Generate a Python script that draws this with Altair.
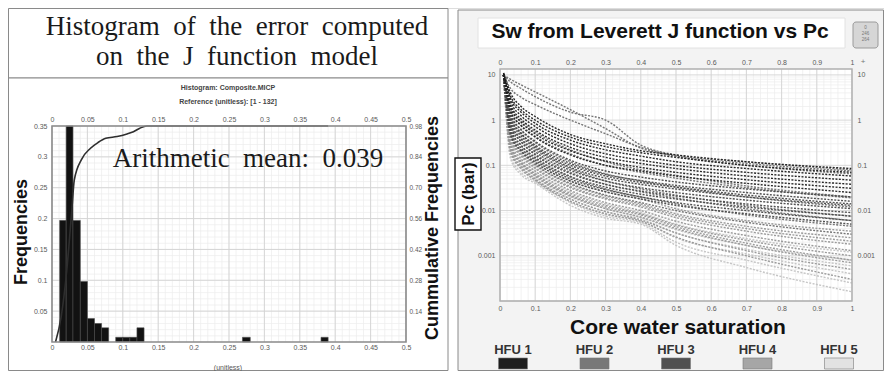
import altair as alt
import numpy as np
import pandas as pd

W, H = 876, 363

# ---------------- text ----------------
left_title = ["Histogram\u00a0 of\u00a0 the\u00a0 error\u00a0 computed", "on\u00a0 the\u00a0 J\u00a0 function\u00a0 model"]
hist_sub1 = "Histogram: Composite.MICP"
hist_sub2 = "Reference (unitless): [1 - 132]"
hist_xlabel = "(unitless)"
hist_ylabel = "Frequencies"
hist_y2label = "Cummulative Frequencies"
mean_text = "Arithmetic\u00a0 mean:\u00a0 0.039"
right_title = "Sw from Leverett J function vs Pc"
right_xlabel = "Core water saturation"
right_ylabel = "Pc (bar)"
icon_text = ["0", "246", "264"]

# ---------------- histogram data ----------------
bin_start = [0.0108, 0.020, 0.0296, 0.040, 0.050, 0.060, 0.070, 0.090, 0.100, 0.110, 0.120, 0.269, 0.380]
bin_end = [0.020, 0.0296, 0.040, 0.050, 0.060, 0.070, 0.080, 0.100, 0.110, 0.120, 0.130, 0.280, 0.390]
bin_freq = [0.197, 0.356, 0.197, 0.098, 0.038, 0.030, 0.023, 0.0076, 0.0076, 0.0076, 0.023, 0.0076, 0.0076]

cum_x = [0.005, 0.013, 0.021, 0.028, 0.0315, 0.042, 0.054, 0.065, 0.076, 0.092, 0.106, 0.115, 0.124, 0.134, 0.27, 0.28, 0.38, 0.39]
cum_y = [0.0, 0.115, 0.33, 0.60, 0.735, 0.83, 0.878, 0.905, 0.924, 0.932, 0.944, 0.954, 0.970, 0.985, 0.985, 0.992, 0.992, 1.0]

hist_x_ticks = [0, 0.05, 0.1, 0.15, 0.2, 0.25, 0.3, 0.35, 0.4, 0.45, 0.5]
hist_y_ticks = [0.05, 0.1, 0.15, 0.2, 0.25, 0.3, 0.35]
cum_ticks = [0.14, 0.28, 0.42, 0.56, 0.70, 0.84, 0.98]
hist_minor_x = [round(v, 2) for v in np.arange(0, 0.501, 0.01)]
hist_minor_y = [round(v, 2) for v in np.arange(0, 0.351, 0.01)]

# ---------------- Pc curves data ----------------
sw_points = [0.01, 0.03, 0.06, 0.1, 0.2, 0.3, 0.4, 0.5, 0.7, 1.0]
hfu_names = ["HFU 1", "HFU 2", "HFU 3", "HFU 4", "HFU 5"]
hfu_line_colors = ["#1e1e1e", "#6e6e6e", "#474747", "#969696", "#c2c2c2"]
hfu_swatch_colors = ["#1e1e1e", "#787878", "#505050", "#a6a6a6", "#e2e2e2"]

curves_hfu1 = [
    [11, 4.0, 2.0, 1.2, 0.48, 0.30, 0.21, 0.17, 0.12, 0.085],
    [11, 3.4, 1.7, 1.0, 0.42, 0.26, 0.19, 0.15, 0.10, 0.070],
    [10, 3.0, 1.5, 0.85, 0.36, 0.22, 0.16, 0.12, 0.085, 0.058],
    [10, 2.6, 1.25, 0.72, 0.30, 0.18, 0.13, 0.10, 0.070, 0.047],
    [10, 2.2, 1.05, 0.60, 0.25, 0.15, 0.11, 0.085, 0.058, 0.038],
    [10, 1.9, 0.90, 0.50, 0.21, 0.125, 0.090, 0.070, 0.048, 0.031],
    [10, 1.6, 0.75, 0.42, 0.17, 0.10, 0.075, 0.058, 0.040, 0.025],
]
curves_hfu2 = [
    [10, 8.0, 6.0, 4.2, 1.7, 0.65, 0.24, 0.16, 0.11, 0.075],
    [10, 7.0, 5.0, 3.3, 1.5, 1.0, 0.28, 0.17, 0.12, 0.080],
    [10, 5.0, 3.2, 2.2, 1.0, 0.50, 0.25, 0.16, 0.10, 0.065],
    [10, 2.0, 0.95, 0.55, 0.22, 0.12, 0.080, 0.060, 0.035, 0.020],
    [10, 1.6, 0.78, 0.44, 0.18, 0.10, 0.070, 0.052, 0.032, 0.019],
    [10, 1.3, 0.60, 0.32, 0.12, 0.065, 0.045, 0.033, 0.020, 0.012],
    [10, 0.90, 0.40, 0.22, 0.085, 0.045, 0.030, 0.022, 0.013, 0.0075],
    [10, 0.75, 0.34, 0.18, 0.070, 0.038, 0.026, 0.019, 0.011, 0.006],
    [10, 0.60, 0.27, 0.14, 0.055, 0.030, 0.020, 0.014, 0.008, 0.0045],
    [10, 0.45, 0.20, 0.105, 0.040, 0.022, 0.015, 0.010, 0.0055, 0.003],
]
curves_hfu3 = [
    [10, 1.4, 0.62, 0.34, 0.13, 0.075, 0.055, 0.043, 0.030, 0.020],
    [10, 1.2, 0.52, 0.28, 0.11, 0.063, 0.046, 0.036, 0.025, 0.016],
    [10, 1.1, 0.50, 0.26, 0.10, 0.058, 0.042, 0.033, 0.022, 0.014],
    [10, 1.0, 0.45, 0.24, 0.090, 0.052, 0.038, 0.030, 0.020, 0.013],
    [10, 0.85, 0.38, 0.20, 0.078, 0.045, 0.032, 0.025, 0.017, 0.011],
    [10, 0.75, 0.33, 0.17, 0.066, 0.038, 0.027, 0.021, 0.014, 0.009],
    [10, 0.65, 0.28, 0.15, 0.057, 0.033, 0.023, 0.018, 0.012, 0.0075],
    [10, 0.55, 0.24, 0.13, 0.050, 0.029, 0.020, 0.015, 0.010, 0.006],
    [10, 0.48, 0.21, 0.115, 0.045, 0.026, 0.018, 0.013, 0.0085, 0.005],
]
curves_hfu4 = [
    [10, 0.50, 0.22, 0.12, 0.045, 0.026, 0.018, 0.011, 0.006, 0.0035],
    [10, 0.42, 0.18, 0.10, 0.038, 0.021, 0.014, 0.0085, 0.0045, 0.0025],
    [10, 0.38, 0.17, 0.090, 0.034, 0.019, 0.013, 0.0078, 0.004, 0.0021],
    [10, 0.36, 0.16, 0.085, 0.032, 0.018, 0.012, 0.007, 0.0035, 0.0018],
    [10, 0.32, 0.14, 0.075, 0.028, 0.015, 0.010, 0.0058, 0.0028, 0.0013],
    [10, 0.28, 0.12, 0.065, 0.024, 0.013, 0.0085, 0.0048, 0.0022, 0.0010],
    [10, 0.27, 0.115, 0.062, 0.022, 0.012, 0.008, 0.0044, 0.0019, 0.0008],
    [10, 0.25, 0.11, 0.058, 0.021, 0.011, 0.0072, 0.0040, 0.0017, 0.0007],
    [10, 0.22, 0.095, 0.050, 0.018, 0.0095, 0.0062, 0.0032, 0.0013, 0.0005],
    [10, 0.20, 0.085, 0.047, 0.016, 0.0085, 0.0058, 0.0026, 0.0010, 0.0003],
]
curves_hfu5 = [
    [10, 0.30, 0.13, 0.070, 0.026, 0.014, 0.0090, 0.0050, 0.0024, 0.0012],
    [10, 0.24, 0.10, 0.055, 0.020, 0.011, 0.0070, 0.0038, 0.0017, 0.0008],
    [10, 0.21, 0.090, 0.050, 0.018, 0.0095, 0.0065, 0.0032, 0.0014, 0.0006],
    [10, 0.19, 0.082, 0.046, 0.016, 0.0082, 0.0058, 0.0025, 0.0011, 0.0004],
    [10, 0.16, 0.070, 0.043, 0.015, 0.0075, 0.0054, 0.0020, 0.0008, 0.00025],
    [10, 0.14, 0.062, 0.040, 0.013, 0.0068, 0.0050, 0.0017, 0.00055, 0.00016],
]
curve_groups = [("HFU 5", curves_hfu5), ("HFU 4", curves_hfu4), ("HFU 2", curves_hfu2),
                ("HFU 3", curves_hfu3), ("HFU 1", curves_hfu1)]

rx_major = [0, 0.1, 0.2, 0.3, 0.4, 0.5, 0.6, 0.7, 0.8, 0.9, 1]
rx_minor = [round(v, 2) for v in np.arange(0, 1.001, 0.02)]
ry_major = [0.0001, 0.001, 0.01, 0.1, 1, 10]
ry_minor = [m * 10.0 ** e for e in range(-4, 1) for m in range(2, 10)]
ry_labels = [0.001, 0.01, 0.1, 1, 10]

# ---------------- scales (pixel ranges inside the canvas) ----------------
hx = alt.Scale(domain=[0, 0.5], range=[44, 398], nice=False, zero=False)
hy = alt.Scale(domain=[0, 0.35], range=[334, 118], nice=False, zero=False, clamp=True)
cy = alt.Scale(domain=[0, 0.98], range=[334, 118], nice=False, zero=False, clamp=True)
rx = alt.Scale(domain=[0, 1], range=[492, 844], nice=False, zero=False)
ry = alt.Scale(type="log", domain=[0.0001, 13.5], range=[293, 61], nice=False)
line_col = alt.Scale(domain=hfu_names, range=hfu_line_colors)
swatch_col = alt.Scale(domain=hfu_names, range=hfu_swatch_colors)
leg_x = alt.Scale(type="point", domain=hfu_names, range=[505, 831], padding=0)

SANS = "Liberation Sans"
SERIF = "Liberation Serif"


def ax(orient, offset, values, fmt, size=7, pad=3):
    return alt.Axis(orient=orient, offset=offset, values=values, format=fmt, labelFontSize=size,
                    labelColor="#5a5a5a", labelFont=SANS, ticks=False, domain=False, grid=False,
                    labelPadding=pad, title=None, labelFlush=False, labelOverlap=False, zindex=5)


def one():
    return pd.DataFrame({"k": [0]})


def box(x1, y1, x2, y2, fill, stroke, sw=1.0, radius=0, fill_opacity=1.0):
    return alt.Chart(one()).mark_rect(fill=fill, fillOpacity=fill_opacity, stroke=stroke,
                                      strokeWidth=sw, cornerRadius=radius).encode(
        x=alt.value(x1), x2=alt.value(x2), y=alt.value(y1), y2=alt.value(y2))


def txt(s, x, y, size, font=SANS, weight="normal", color="#222", angle=0, align="center"):
    return alt.Chart(pd.DataFrame({"t": [s]})).mark_text(
        fontSize=size, font=font, fontWeight=weight, color=color, angle=angle,
        align=align, baseline="middle").encode(text="t:N", x=alt.value(x), y=alt.value(y))


layers = []

# ---------- frames / backgrounds ----------
layers.append(box(0.5, 0.5, 440, 70, "#ffffff", "#8a8a8a"))
layers.append(box(0.5, 70, 440, 362.5, "#ffffff", "#8a8a8a"))
layers.append(box(450, 2, 875.5, 362.5, "#f3f3f3", "#8a8a8a"))
layers.append(box(470, 10, 837, 40, "#ffffff", "#e2e2e2"))
layers.append(box(845, 14, 870, 40, "#d6d6d6", "#9a9a9a", 1, 3))

# ---------- histogram ----------
hist_bg = alt.Chart(one()).mark_rect(fill="#ffffff").encode(
    x=alt.X(datum=0, type="quantitative", scale=hx, axis=None), x2=alt.X2(datum=0.5),
    y=alt.Y(datum=0, type="quantitative", scale=hy, axis=None), y2=alt.Y2(datum=0.35))
layers.append(hist_bg)

minor_x_h = alt.Chart(pd.DataFrame({"v": hist_minor_x})).mark_rule(color="#ececec", strokeWidth=0.7).encode(
    x=alt.X("v:Q", scale=hx, axis=ax("bottom", -29, hist_x_ticks, "~g", 7, 1.5)),
    y=alt.Y(datum=0, type="quantitative", scale=hy, axis=None), y2=alt.Y2(datum=0.35))
minor_y_h = alt.Chart(pd.DataFrame({"v": hist_minor_y})).mark_rule(color="#ececec", strokeWidth=0.7).encode(
    y=alt.Y("v:Q", scale=hy, axis=ax("left", -44, hist_y_ticks, "~g", 7, 5)),
    x=alt.X(datum=0, type="quantitative", scale=hx, axis=None), x2=alt.X2(datum=0.5))
major_x_h = alt.Chart(pd.DataFrame({"v": hist_x_ticks})).mark_rule(color="#d2d2d2", strokeWidth=0.9).encode(
    x=alt.X("v:Q", scale=hx, axis=ax("top", -118, hist_x_ticks, "~g", 7, 4)),
    y=alt.Y(datum=0, type="quantitative", scale=hy, axis=None), y2=alt.Y2(datum=0.35))
major_y_h = alt.Chart(pd.DataFrame({"v": hist_y_ticks})).mark_rule(color="#d2d2d2", strokeWidth=0.9).encode(
    y=alt.Y("v:Q", scale=hy, axis=None),
    x=alt.X(datum=0, type="quantitative", scale=hx, axis=None), x2=alt.X2(datum=0.5))
layers += [minor_x_h, minor_y_h, major_x_h, major_y_h]

bars = alt.Chart(pd.DataFrame({"a": bin_start, "b": bin_end, "f": bin_freq})).mark_rect(
    fill="#121212", stroke="#4a4a4a", strokeWidth=0.6).encode(
    x=alt.X("a:Q", scale=hx, axis=None), x2="b:Q",
    y=alt.Y("f:Q", scale=hy, axis=None), y2=alt.Y2(datum=0))
layers.append(bars)

cum = alt.Chart(pd.DataFrame({"x": cum_x, "c": cum_y})).mark_line(
    color="#2e2e2e", strokeWidth=1.6, interpolate="monotone").encode(
    x=alt.X("x:Q", scale=hx, axis=None),
    y=alt.Y("c:Q", scale=cy, axis=ax("right", -478, cum_ticks, ".2f", 6.5, 3)))
layers.append(cum)

hist_border = alt.Chart(one()).mark_rect(fillOpacity=0, stroke="#8c8c8c", strokeWidth=1.6).encode(
    x=alt.X(datum=0, type="quantitative", scale=hx, axis=None), x2=alt.X2(datum=0.5),
    y=alt.Y(datum=0, type="quantitative", scale=hy, axis=None), y2=alt.Y2(datum=0.35))
layers.append(hist_border)

layers.append(txt(left_title[0], 229, 19, 27, SERIF, color="#1a1a1a"))
layers.append(txt(left_title[1], 229, 49, 27, SERIF, color="#1a1a1a"))
layers.append(txt(hist_sub1, 220, 80, 7, SANS, "bold", "#444"))
layers.append(txt(hist_sub2, 220, 94, 7, SANS, "bold", "#444"))
layers.append(txt(hist_xlabel, 220, 360, 7, SANS, "normal", "#555"))
layers.append(txt(mean_text, 240, 151, 27, SERIF, color="#1a1a1a"))
layers.append(txt(hist_ylabel, 14, 224, 18, SANS, "bold", "#111", 270))
layers.append(txt(hist_y2label, 425, 220, 18, SANS, "bold", "#111", 270))

# ---------- Pc plot ----------
pc_bg = alt.Chart(one()).mark_rect(fill="#ffffff").encode(
    x=alt.X(datum=0, type="quantitative", scale=rx, axis=None), x2=alt.X2(datum=1),
    y=alt.Y(datum=0.0001, type="quantitative", scale=ry, axis=None), y2=alt.Y2(datum=13.5))
layers.append(pc_bg)

minor_x_r = alt.Chart(pd.DataFrame({"v": rx_minor})).mark_rule(color="#ededed", strokeWidth=0.7).encode(
    x=alt.X("v:Q", scale=rx, axis=ax("bottom", -70, rx_major, "~g", 7, 3)),
    y=alt.Y(datum=0.0001, type="quantitative", scale=ry, axis=None), y2=alt.Y2(datum=13.5))
minor_y_r = alt.Chart(pd.DataFrame({"v": ry_minor})).mark_rule(color="#ededed", strokeWidth=0.7).encode(
    y=alt.Y("v:Q", scale=ry, axis=ax("left", -492, ry_labels, "~g", 7, 5)),
    x=alt.X(datum=0, type="quantitative", scale=rx, axis=None), x2=alt.X2(datum=1))
major_x_r = alt.Chart(pd.DataFrame({"v": rx_major})).mark_rule(color="#d4d4d4", strokeWidth=0.9).encode(
    x=alt.X("v:Q", scale=rx, axis=ax("top", -61, rx_major, "~g", 7, 4)),
    y=alt.Y(datum=0.0001, type="quantitative", scale=ry, axis=None), y2=alt.Y2(datum=13.5))
major_y_r = alt.Chart(pd.DataFrame({"v": ry_major})).mark_rule(color="#d4d4d4", strokeWidth=0.9).encode(
    y=alt.Y("v:Q", scale=ry, axis=ax("right", -32, ry_labels, "~g", 7, 5)),
    x=alt.X(datum=0, type="quantitative", scale=rx, axis=None), x2=alt.X2(datum=1))
layers += [minor_x_r, minor_y_r, major_x_r, major_y_r]

for gname, group in curve_groups:
    rows = []
    for ci, vals in enumerate(group):
        for s, v in zip(sw_points, vals):
            rows.append({"curve": f"{gname}-{ci}", "hfu": gname, "sw": s, "pc": v})
    gdf = pd.DataFrame(rows)
    layers.append(alt.Chart(gdf).mark_line(strokeWidth=1.4, strokeDash=[2, 1.4], interpolate="monotone",
                                           opacity=0.95).encode(
        x=alt.X("sw:Q", scale=rx, axis=None),
        y=alt.Y("pc:Q", scale=ry, axis=None),
        color=alt.Color("hfu:N", scale=line_col, legend=None),
        detail="curve:N"))

pc_border = alt.Chart(one()).mark_rect(fillOpacity=0, stroke="#b0b0b0", strokeWidth=1.4).encode(
    x=alt.X(datum=0, type="quantitative", scale=rx, axis=None), x2=alt.X2(datum=1),
    y=alt.Y(datum=0.0001, type="quantitative", scale=ry, axis=None), y2=alt.Y2(datum=13.5))
layers.append(pc_border)

layers.append(txt(right_title, 652, 24, 21, SANS, "bold", "#111"))
layers.append(txt(right_xlabel, 670, 320, 21, SANS, "bold", "#111"))
layers.append(box(447, 150, 473, 222, "#ffffff", "#111111", 1.4))
layers.append(txt(right_ylabel, 461, 186, 17, SANS, "bold", "#111", 270))
layers.append(txt("+", 855, 54, 8, SANS, "normal", "#777"))
for i, s in enumerate(icon_text):
    layers.append(txt(s, 857.5, 20 + 6 * i, 4.5, SANS, "normal", "#777"))

legend_df = pd.DataFrame({"hfu": hfu_names})
leg_text = alt.Chart(legend_df).mark_text(fontSize=13, font=SANS, fontWeight="bold", color="#333",
                                          baseline="middle").encode(
    x=alt.X("hfu:N", scale=leg_x, axis=None), y=alt.value(342), text="hfu:N")
leg_sw = alt.Chart(legend_df).mark_point(
    shape="M-1,-0.38L1,-0.38L1,0.38L-1,0.38Z", size=841, filled=True, opacity=1,
    stroke="#7a7a7a", strokeWidth=0.6).encode(
    x=alt.X("hfu:N", scale=leg_x, axis=None), y=alt.value(355.5),
    color=alt.Color("hfu:N", scale=swatch_col, legend=None))
layers += [leg_text, leg_sw]

chart = alt.layer(*layers).resolve_scale(
    x="independent", y="independent", color="independent"
).resolve_axis(x="independent", y="independent").properties(
    width=W, height=H, autosize=alt.AutoSizeParams(type="none"), padding=0
).configure_view(stroke=None).configure(background="#ffffff")

chart.save("out.html", embed_options={"renderer": "svg", "actions": False})
